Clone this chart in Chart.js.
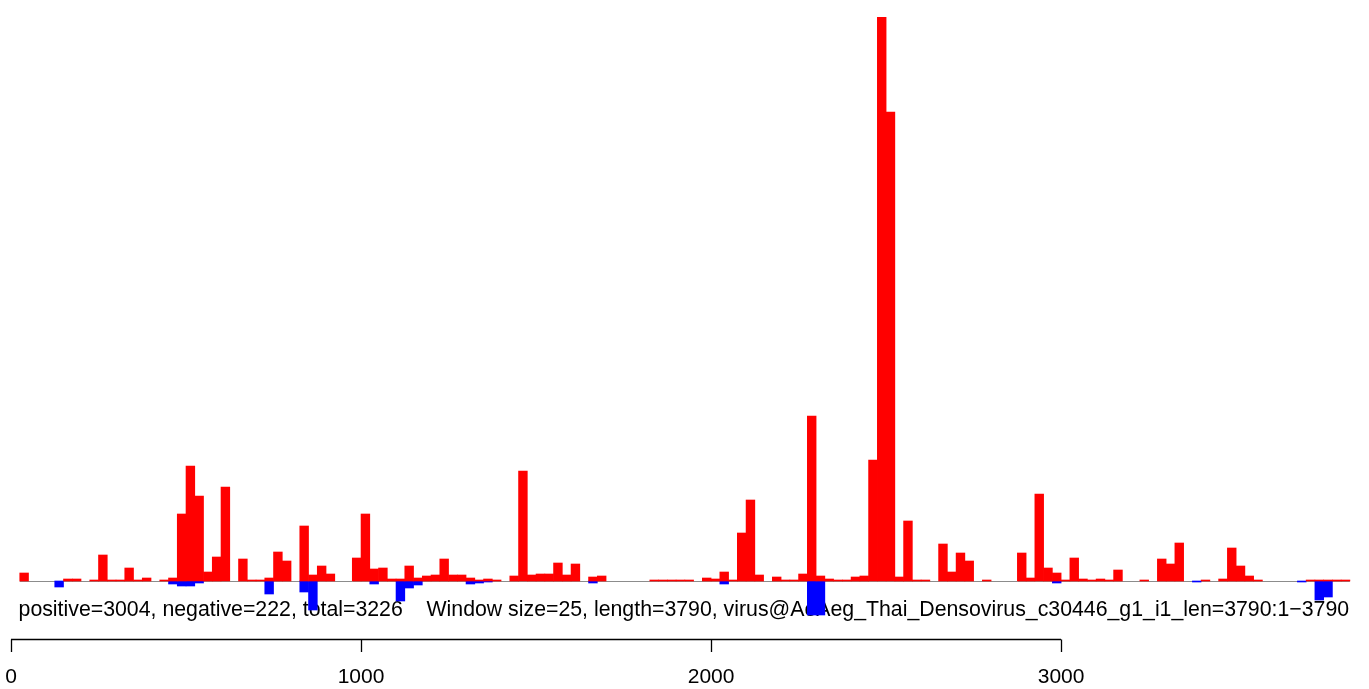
<!DOCTYPE html>
<html>
<head>
<meta charset="utf-8">
<script src="https://cdn.jsdelivr.net/npm/chart.js@4/dist/chart.umd.min.js"></script>
<style>
  html, body { margin: 0; padding: 0; background: #ffffff; }
  #wrap { width: 1369px; height: 689px; position: relative; }
</style>
</head>
<body>
<div id="wrap"><canvas id="c" width="1369" height="689"></canvas></div>
<script>
// ---- data (counts per 25-nt window) ----
const windowSize = 25;
const positiveCounts = [
  8, 0, 0, 0, 0, 2, 2, 0, 1, 26,
  1, 1, 13, 1, 3, 0, 1, 3, 67, 115,
  85, 9, 24, 94, 0, 22, 1, 1, 3, 29,
  20, 0, 55, 6, 15, 7, 0, 0, 23, 67,
  12, 13, 2, 2, 15, 3, 5, 6, 22, 6,
  6, 3, 1, 2, 1, 0, 5, 110, 6, 7,
  7, 18, 6, 17, 0, 4, 5, 0, 0, 0,
  0, 0, 1, 1, 1, 1, 1, 0, 3, 2,
  9, 1, 48, 81, 6, 0, 4, 1, 1, 7,
  165, 5, 2, 1, 1, 4, 5, 121, 564, 469,
  4, 60, 1, 1, 0, 37, 9, 28, 20, 0,
  1, 0, 0, 0, 28, 3, 87, 13, 8, 1,
  23, 2, 1, 2, 1, 11, 0, 0, 1, 0,
  22, 17, 38, 0, 0, 1, 0, 2, 33, 15,
  5, 1, 0, 0, 0, 0, 0, 1, 1, 1,
  1, 1
];
const negativeCounts = [
  0, 0, 0, 0, -6, 0, 0, 0, 0, 0,
  0, 0, 0, 0, 0, 0, 0, -3, -5, -5,
  -2, 0, 0, 0, 0, 0, 0, 0, -13, 0,
  0, 0, -11, -29, 0, 0, 0, 0, 0, 0,
  -3, 0, 0, -20, -7, -4, 0, 0, 0, 0,
  0, -3, -2, -1, 0, 0, 0, 0, 0, 0,
  0, 0, 0, 0, 0, -2, 0, 0, 0, 0,
  0, 0, 0, 0, 0, 0, 0, 0, 0, 0,
  -3, 0, 0, 0, 0, 0, 0, 0, 0, 0,
  -34, -34, 0, 0, 0, 0, 0, 0, 0, 0,
  0, 0, 0, 0, 0, 0, 0, 0, 0, 0,
  0, 0, 0, 0, 0, 0, 0, 0, -2, 0,
  0, 0, 0, 0, 0, 0, 0, 0, 0, 0,
  0, 0, 0, 0, -1, 0, 0, 0, 0, 0,
  0, 0, 0, 0, 0, 0, -1, 0, -19, -16,
  0, 0
];
const axisTicks = [0, 1000, 2000, 3000];
const captionText = "positive=3004, negative=222, total=3226    Window size=25, length=3790, virus@AeAeg_Thai_Densovirus_c30446_g1_i1_len=3790:1\u22123790";

// window centres on the genome coordinate; empty windows draw no bar
const windowCentres = positiveCounts.map((_, i) => (i + 1) * windowSize + windowSize / 2);
const posData = positiveCounts.map((v, i) => ({ x: windowCentres[i], y: v === 0 ? null : v }));
const negData = negativeCounts.map((v, i) => ({ x: windowCentres[i], y: v === 0 ? null : v }));

const FONT = '"Liberation Sans", Arial, Helvetica, sans-serif';

const rPlotDecor = {
  id: 'rPlotDecor',
  beforeDatasetsDraw(chart) {
    const ctx = chart.ctx;
    const xs = chart.scales.x, ys = chart.scales.y;
    const y0 = ys.getPixelForValue(0);
    const xL = xs.getPixelForValue(windowSize);
    const xR = xs.getPixelForValue((positiveCounts.length + 1) * windowSize);
    ctx.save();
    ctx.strokeStyle = '#8c8c8c';
    ctx.lineWidth = 1;
    ctx.beginPath();
    ctx.moveTo(xL, Math.round(y0) + 0.5);
    ctx.lineTo(xR, Math.round(y0) + 0.5);
    ctx.stroke();
    // caption text (drawn beneath the bars like the original)
    ctx.fillStyle = '#000000';
    ctx.font = '21.3px ' + FONT;
    ctx.textAlign = 'center';
    ctx.textBaseline = 'alphabetic';
    ctx.fillText(captionText, (xL + xR) / 2 - 1, 615.5);
    ctx.restore();
  },
  afterDraw(chart) {
    const ctx = chart.ctx;
    const xs = chart.scales.x;
    const axisY = 639.5;
    ctx.save();
    ctx.strokeStyle = '#000000';
    ctx.lineWidth = 1.3;
    ctx.beginPath();
    ctx.moveTo(xs.getPixelForValue(axisTicks[0]), axisY);
    ctx.lineTo(xs.getPixelForValue(axisTicks[axisTicks.length - 1]), axisY);
    axisTicks.forEach(t => {
      const px = Math.round(xs.getPixelForValue(t)) + 0.5;
      ctx.moveTo(px, axisY);
      ctx.lineTo(px, axisY + 12.5);
    });
    ctx.stroke();
    ctx.fillStyle = '#000000';
    ctx.font = '21px ' + FONT;
    ctx.textAlign = 'center';
    ctx.textBaseline = 'middle';
    axisTicks.forEach(t => {
      ctx.fillText(String(t), xs.getPixelForValue(t), 677.5);
    });
    ctx.restore();
  }
};

new Chart(document.getElementById('c'), {
  type: 'bar',
  data: {
    datasets: [
      { label: 'positive', data: posData, backgroundColor: '#ff0000', borderWidth: 0 },
      { label: 'negative', data: negData, backgroundColor: '#0000ff', borderWidth: 0 }
    ]
  },
  options: {
    responsive: false,
    animation: false,
    devicePixelRatio: 1,
    layout: { padding: { left: 11, right: 10, top: 17, bottom: 58 } },
    datasets: { bar: { barPercentage: 1.0, categoryPercentage: 1.0 } },
    plugins: { legend: { display: false }, tooltip: { enabled: false }, title: { display: false } },
    scales: {
      x: { type: 'linear', min: 0, max: 3851, offset: false, stacked: true, display: false },
      y: { min: -50, max: 564, stacked: true, display: false }
    }
  },
  plugins: [rPlotDecor]
});
</script>
</body>
</html>
